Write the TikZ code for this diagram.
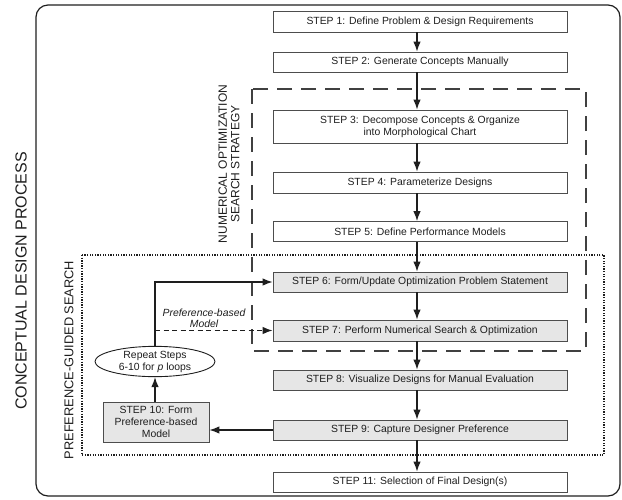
\documentclass[tikz,border=0pt]{standalone}
\usepackage{fontspec}
\setmainfont{Liberation Sans}
\usetikzlibrary{arrows.meta,shapes.geometric}
\definecolor{boxgray}{HTML}{E6E6E6}
\definecolor{edge}{HTML}{4D4D4D}
\definecolor{ink}{HTML}{1E1E1E}
\begin{document}
\begin{tikzpicture}[x=1pt,y=-1pt,
  every node/.style={text=ink},
  stepbox/.style={draw=edge, line width=0.8pt, minimum width=294pt, inner sep=0pt,
    font=\fontsize{10.4}{12}\selectfont, align=center},
  graybox/.style={stepbox, fill=boxgray},
  arr/.style={draw=ink, line width=1.2pt, -{Latex[length=10pt,width=7.5pt]}},
  vlabel/.style={rotate=90, inner sep=0pt, align=center}
]
\useasboundingbox (0,0) rectangle (622,499);

% frames
\draw[draw=ink, line width=1.2pt, rounded corners=12pt] (36,5) rectangle (620,496);
\draw[draw=ink!85, dash pattern=on 15pt off 9pt, line width=1.1pt] (252,89) rectangle (586,351);
\draw[draw=ink, dash pattern=on 1.3pt off 1.3pt, line width=1.1pt] (82,255) rectangle (604,455);

% steps
\node[stepbox, minimum height=21pt] (s1) at (420,21.5) {STEP 1: Define Problem \& Design Requirements};
\node[stepbox, minimum height=20pt] (s2) at (420,62) {STEP 2: Generate Concepts Manually};
\node[stepbox, minimum height=33pt] (s3) at (420,126.5) {STEP 3: Decompose Concepts \& Organize\\into Morphological Chart};
\node[stepbox, minimum height=21pt] (s4) at (420,182.5) {STEP 4: Parameterize Designs};
\node[stepbox, minimum height=20pt] (s5) at (420,231.5) {STEP 5: Define Performance Models};
\node[graybox, minimum height=20pt] (s6) at (420,282) {STEP 6: Form/Update Optimization Problem Statement};
\node[graybox, minimum height=21pt] (s7) at (420,330.5) {STEP 7: Perform Numerical Search \& Optimization};
\node[graybox, minimum height=20pt] (s8) at (420,380) {STEP 8: Visualize Designs for Manual Evaluation};
\node[graybox, minimum height=20pt] (s9) at (420,430) {STEP 9: Capture Designer Preference};
\node[stepbox, minimum height=20pt] (s11) at (420,482) {STEP 11: Selection of Final Design(s)};
\node[graybox, minimum width=106pt, minimum height=40pt] (s10) at (156,422) {STEP 10: Form\\Preference-based\\Model};
\node[ellipse, draw=ink, line width=0.9pt, fill=white, minimum width=120pt, minimum height=27pt, inner sep=0pt,
  font=\fontsize{10.4}{12}\selectfont, align=center] (loop) at (155,361.5) {Repeat Steps\\6-10 for \textit{p} loops};

% labels
\node[vlabel, font=\fontsize{16}{19}\selectfont] (cdp) at (21,281) {CONCEPTUAL DESIGN PROCESS};
\node[vlabel, font=\fontsize{12}{12.5}\selectfont] (nos) at (229,164) {NUMERICAL OPTIMIZATION\\SEARCH STRATEGY};
\node[vlabel, font=\fontsize{12.8}{15}\selectfont] (pgs) at (69,360) {PREFERENCE-GUIDED SEARCH};
\node[font=\itshape\fontsize{10.4}{11.5}\selectfont, align=center, inner sep=0pt] (pbm) at (204,318.5) {Preference-based\\Model};

% main flow
\foreach \a/\b in {s1/s2,s2/s3,s3/s4,s4/s5,s5/s6,s6/s7,s7/s8,s8/s9,s9/s11}{
  \draw[arr] ([xshift=-3pt]\a.south) -- ([xshift=-3pt]\b.north);
}
% loop
\draw[arr] (s9.west) -- (s9.west -| s10.east);
\draw[arr] (s10.north -| loop.south) -- (loop.south);
\draw[arr] (loop.north) |- (s6.west);
\coordinate (dj) at (loop.north |- s7.west);
\draw[arr, dash pattern=on 5pt off 3.5pt] (dj) -- (s7.west);
\end{tikzpicture}
\end{document}
